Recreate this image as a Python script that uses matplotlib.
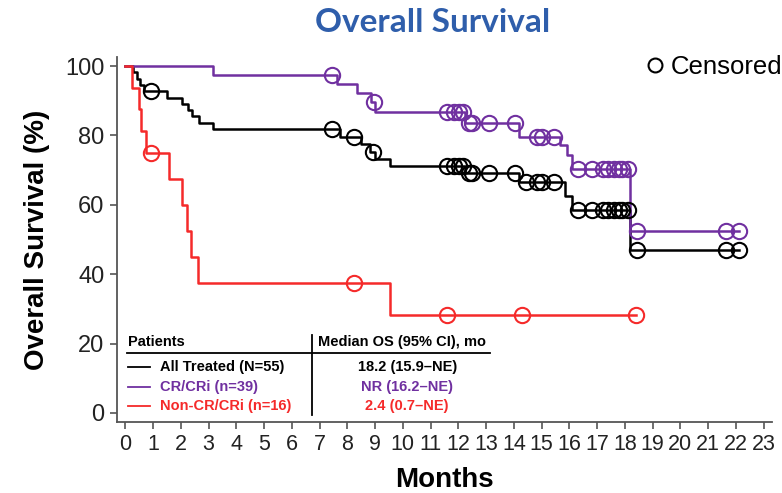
import matplotlib
matplotlib.use("Agg")
import matplotlib.pyplot as plt
from matplotlib.lines import Line2D
import numpy as np

plt.rcParams['font.family'] = ['Liberation Sans', 'DejaVu Sans']

# Kaplan-Meier steps (months, % surviving)
all_t = [0, 0.26, 0.42, 0.54, 0.66, 1.5, 2.04, 2.25, 2.4, 2.64, 3.15, 7.75, 8.5, 8.8, 9.0, 9.55, 12.25, 14.2, 15.85, 16.1, 18.2]
all_s = [100, 98.2, 96.4, 94.5, 92.7, 90.9, 89.1, 87.3, 85.5, 83.6, 81.8, 79.6, 77.4, 75.3, 73.2, 71.3, 69.1, 66.5, 62.5, 58.6, 46.9]
all_cens = [0.94, 7.45, 8.24, 8.92, 11.6, 11.84, 12.02, 12.15, 12.4, 12.5, 13.1, 14.05, 14.43, 14.85, 15.03, 15.45,
            16.3, 16.8, 17.2, 17.4, 17.6, 17.8, 17.9, 18.1, 18.45, 21.65, 22.1]

cr_t = [0, 3.17, 7.64, 8.33, 8.84, 9.0, 12.25, 14.2, 15.65, 15.9, 16.1, 18.2]
cr_s = [100, 97.4, 94.8, 92.2, 89.5, 86.8, 83.6, 79.6, 77.2, 74.4, 70.3, 52.4]
cr_cens = [7.45, 8.96, 11.6, 11.84, 12.02, 12.15, 12.4, 12.5, 13.1, 14.05, 14.85, 15.03, 15.45,
           16.3, 16.8, 17.2, 17.4, 17.6, 17.8, 17.9, 18.1, 18.45, 21.65, 22.1]

non_t = [0, 0.24, 0.48, 0.58, 0.75, 1.56, 2.04, 2.22, 2.37, 2.62, 9.54]
non_s = [100, 93.75, 87.5, 81.25, 75, 67.5, 60, 52.5, 45, 37.5, 28.1]
non_cens = [0.94, 8.24, 11.58, 14.3, 18.4]

labels = ['All Treated (N=55)', 'CR/CRi (n=39)', 'Non-CR/CRi (n=16)']
medians = ['18.2 (15.9\u2013NE)', 'NR (16.2\u2013NE)', '2.4 (0.7\u2013NE)']
colors = ['black', '#7030A0', '#F52A2A']

x_ticks = list(range(0, 24))
y_ticks = [0, 20, 40, 60, 80, 100]


def surv_at(t, s, x):
    idx = np.searchsorted(np.array(t), np.array(x), side='right') - 1
    return np.array(s)[idx]


fig = plt.figure(figsize=(7.82, 4.93), dpi=100)
ax = fig.add_axes([117 / 782, 1 - 422 / 493, 655 / 782, 365 / 493])

groups = [(all_t, all_s, all_cens), (cr_t, cr_s, cr_cens), (non_t, non_s, non_cens)]
for (t, s, c), col in zip(groups, colors):
    end = max(c)
    ax.step(t + [end], s + [s[-1]], where='post', color=col, lw=1.8, zorder=3)
    ax.plot(c, surv_at(t, s, c), 'o', ms=11, mfc='none', mec=col, mew=1.5, zorder=4)

ax.set_xlim(-0.3, 23.3)
ax.set_ylim(-2.6, 102.6)
ax.set_xticks(x_ticks)
ax.set_yticks(y_ticks)
for side in ['top', 'right']:
    ax.spines[side].set_visible(False)
for side in ['left', 'bottom']:
    ax.spines[side].set_color('#555555')
    ax.spines[side].set_linewidth(1.3)
ax.tick_params(axis='both', length=5, width=1.2, color='#555555', labelcolor='#222222')
ax.tick_params(axis='x', pad=4, labelsize=15.5)
ax.tick_params(axis='y', pad=4, labelsize=17)
ax.set_xlabel('Months', fontsize=20, fontweight='bold', labelpad=8)
ax.set_ylabel('Overall Survival (%)', fontsize=20, fontweight='bold', labelpad=11)

# median table inside the plot
tr = ax.transAxes
ax.text(0.017, 0.219, 'Patients', transform=tr, fontsize=10.5, fontweight='bold', va='center')
ax.text(0.307, 0.219, 'Median OS (95% CI), mo', transform=tr, fontsize=10.5, fontweight='bold', va='center')
ax.plot([0.015, 0.569], [0.189, 0.189], transform=tr, color='black', lw=1.3)
ax.plot([0.297, 0.297], [0.238, 0.019], transform=tr, color='black', lw=1.3)
row_y = [0.151, 0.096, 0.043]
for lab, med, col, y in zip(labels, medians, colors, row_y):
    ax.plot([0.017, 0.050], [y, y], transform=tr, color=col, lw=1.3)
    ax.text(0.066, y, lab, transform=tr, fontsize=10.5, fontweight='bold', color=col, va='center')
    ax.text(0.443, y, med, transform=tr, fontsize=10.5, fontweight='bold', color=col, va='center', ha='center')

handle = Line2D([], [], marker='o', ls='none', ms=10, mfc='none', mec='black', mew=1.5)
fig.legend([handle], ['Censored'], loc='center right', bbox_to_anchor=(1.0 + 12 / 782, 1 - 67 / 493),
           frameon=False, fontsize=18.5, handletextpad=0.15, borderaxespad=0.05, handlelength=0.9)

fig.text(433 / 782, 1 - 23 / 493, 'Overall Survival', family='Lato', fontweight='bold',
         fontsize=24, color='#2F5EAB', ha='center', va='center')

fig.savefig('out.png', dpi=100)
